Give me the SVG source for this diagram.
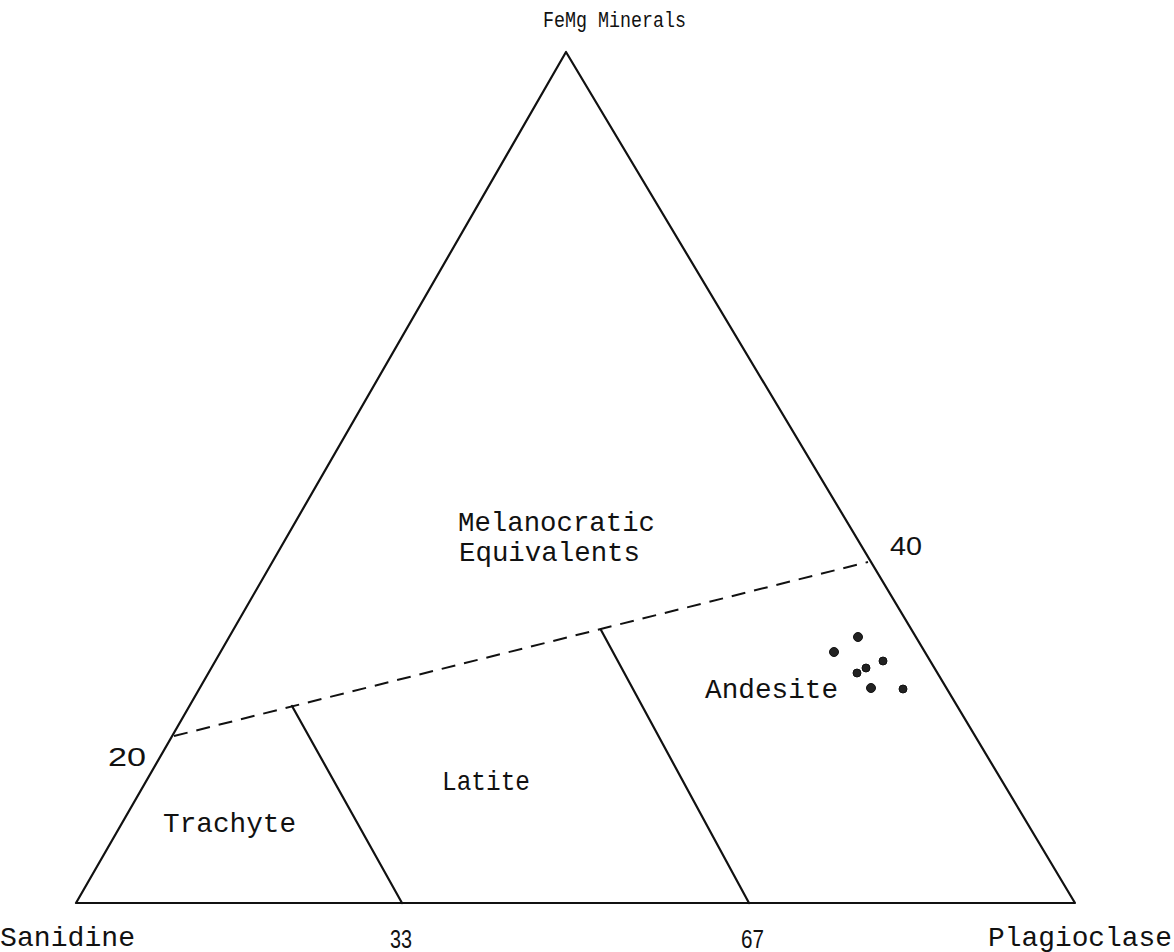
<svg xmlns="http://www.w3.org/2000/svg" width="1174" height="952" viewBox="0 0 1174 952">
<style>
.ln{stroke:#111;stroke-width:2.2;fill:none;stroke-linecap:round;stroke-linejoin:round}
.ds{stroke:#111;stroke-width:2;fill:none;stroke-dasharray:14,9}
.t{font-family:"Liberation Mono","DejaVu Sans Mono",monospace;font-size:28px;fill:#111}
.n{font-family:"Liberation Sans","DejaVu Sans",sans-serif;font-size:26px;fill:#111}
.dot{fill:#222;stroke:#111;stroke-width:1}
</style>
<rect width="1174" height="952" fill="#fff"/>
<g id="connectors">
<polygon class="ln" points="566,52 76,903 1075,903"/>
<line class="ds" x1="174" y1="736" x2="868" y2="562"/>
<line class="ln" x1="292" y1="706" x2="402" y2="903"/>
<line class="ln" x1="601" y1="630" x2="749" y2="903"/>
</g>
<g id="apex-label"><text class="t" x="543" y="27" textLength="143" lengthAdjust="spacingAndGlyphs" style="font-size:22px">FeMg Minerals</text></g>
<g id="melanocratic"><text class="t" x="458" y="531" textLength="197" lengthAdjust="spacingAndGlyphs">Melanocratic</text><text class="t" x="459" y="561" textLength="181" lengthAdjust="spacingAndGlyphs">Equivalents</text></g>
<g id="andesite"><text class="t" x="705" y="698" textLength="133" lengthAdjust="spacingAndGlyphs">Andesite</text></g>
<g id="latite"><text class="t" x="442" y="790" textLength="88" lengthAdjust="spacingAndGlyphs">Latite</text></g>
<g id="trachyte"><text class="t" x="163" y="832" textLength="133" lengthAdjust="spacingAndGlyphs">Trachyte</text></g>
<g id="sanidine"><text class="t" x="0" y="946" textLength="135" lengthAdjust="spacingAndGlyphs">Sanidine</text></g>
<g id="plagioclase"><text class="t" x="988" y="946" textLength="184" lengthAdjust="spacingAndGlyphs">Plagioclase</text></g>
<g id="ticks">
<text class="n" x="108" y="766" textLength="38" lengthAdjust="spacingAndGlyphs">20</text>
<text class="n" x="890" y="555" textLength="32" lengthAdjust="spacingAndGlyphs">40</text>
<text class="n" x="390" y="948" textLength="22" lengthAdjust="spacingAndGlyphs">33</text>
<text class="n" x="741" y="948" textLength="23" lengthAdjust="spacingAndGlyphs">67</text>
</g>
<g id="samples">
<circle class="dot" cx="858" cy="637" r="4.5"/>
<circle class="dot" cx="834" cy="652" r="4.5"/>
<circle class="dot" cx="883" cy="661" r="4"/>
<circle class="dot" cx="857" cy="673" r="4"/>
<circle class="dot" cx="866" cy="668" r="4"/>
<circle class="dot" cx="871" cy="688" r="4.5"/>
<circle class="dot" cx="903" cy="689" r="4"/>
</g>
</svg>
